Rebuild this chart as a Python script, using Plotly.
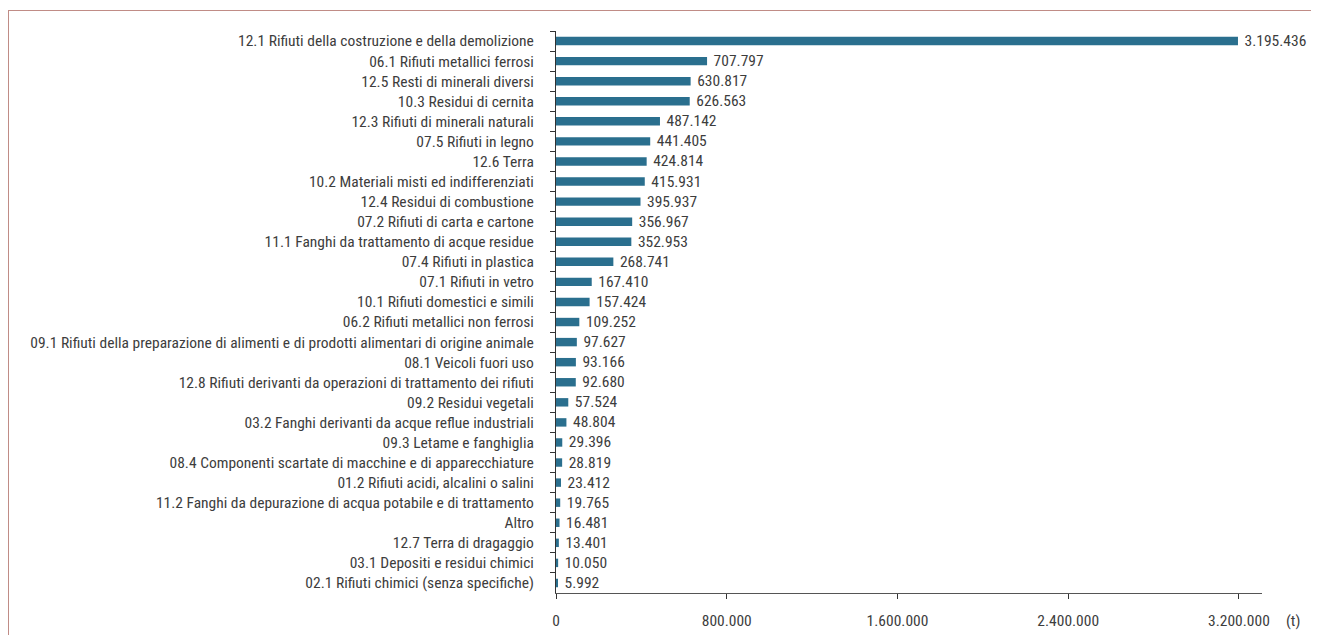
import plotly.graph_objects as go

categories = [
    "12.1 Rifiuti della costruzione e della demolizione",
    "06.1 Rifiuti metallici ferrosi",
    "12.5 Resti di minerali diversi",
    "10.3 Residui di cernita",
    "12.3 Rifiuti di minerali naturali",
    "07.5 Rifiuti in legno",
    "12.6 Terra",
    "10.2 Materiali misti ed indifferenziati",
    "12.4 Residui di combustione",
    "07.2 Rifiuti di carta e cartone",
    "11.1 Fanghi da trattamento di acque residue",
    "07.4 Rifiuti in plastica",
    "07.1 Rifiuti in vetro",
    "10.1 Rifiuti domestici e simili",
    "06.2 Rifiuti metallici non ferrosi",
    "09.1 Rifiuti della preparazione di alimenti e di prodotti alimentari di origine animale",
    "08.1 Veicoli fuori uso",
    "12.8 Rifiuti derivanti da operazioni di trattamento dei rifiuti",
    "09.2 Residui vegetali",
    "03.2 Fanghi derivanti da acque reflue industriali",
    "09.3 Letame e fanghiglia",
    "08.4 Componenti scartate di macchine e di apparecchiature",
    "01.2 Rifiuti acidi, alcalini o salini",
    "11.2 Fanghi da depurazione di acqua potabile e di trattamento",
    "Altro",
    "12.7 Terra di dragaggio",
    "03.1 Depositi e residui chimici",
    "02.1 Rifiuti chimici (senza specifiche)",
]
values = [3195436, 707797, 630817, 626563, 487142, 441405, 424814, 415931, 395937,
          356967, 352953, 268741, 167410, 157424, 109252, 97627, 93166, 92680,
          57524, 48804, 29396, 28819, 23412, 19765, 16481, 13401, 10050, 5992]
x_ticks = [0, 800000, 1600000, 2400000, 3200000]
unit_label = "(t)"

FONT = "Roboto Condensed, Liberation Sans Narrow, Arial Narrow, sans-serif"
TXT = "#3d3d3d"
BAR = "#2a6f8e"

# figure is offset by the 8px page body margin
W, H = 1311, 627
L, R, T, B = 548, 57, 23, 42
PW = W - L - R
PH = H - T - B


def px(x):
    return (x - L) / PW


def py(y):
    return (H - B - y) / PH


fig = go.Figure(go.Bar(
    x=values, y=categories, orientation="h",
    marker=dict(color=BAR, line=dict(width=0)),
    texttemplate=" %{x:,d}", textposition="outside", cliponaxis=False,
    constraintext="none",
    textfont=dict(family=FONT, size=15.5, color=TXT),
    hoverinfo="x+y",
))

fig.update_layout(
    width=W, height=H,
    margin=dict(l=L, r=R, t=T, b=B, pad=0, autoexpand=False),
    paper_bgcolor="white", plot_bgcolor="white",
    separators=",.",
    bargap=0.58,
    showlegend=False,
    font=dict(family=FONT, size=15, color=TXT),
    xaxis=dict(
        range=[0, 3308000], tickvals=x_ticks, tickformat=",d",
        automargin=False,
        showgrid=False, zeroline=False,
        showline=True, linecolor="#555", linewidth=1,
        ticks="outside", ticklen=5, tickcolor="#333",
        tickfont=dict(family=FONT, size=15.5, color=TXT),
        ticklabelstandoff=8,
    ),
    yaxis=dict(
        categoryorder="array", categoryarray=categories, autorange="reversed",
        tickmode="linear", tick0=0, dtick=1,
        automargin=False,
        showgrid=False, zeroline=False,
        showline=True, linecolor="#333", linewidth=1,
        ticks="outside", ticklen=5, tickcolor="#333", tickson="boundaries",
        tickfont=dict(family=FONT, size=15.5, color=TXT),
        ticklabelstandoff=18,
    ),
    annotations=[dict(
        text=unit_label, xref="paper", yref="paper",
        x=px(1285), y=py(613),
        xanchor="center", yanchor="middle", showarrow=False,
        font=dict(family=FONT, size=15.5, color=TXT),
    )],
    shapes=[
        dict(type="line", xref="paper", yref="paper",
             x0=px(0), x1=px(W),
             y0=py(2.5), y1=py(2.5),
             line=dict(color="#c08c86", width=1)),
        dict(type="line", xref="paper", yref="paper",
             x0=px(0.5), x1=px(0.5),
             y0=py(2), y1=py(H),
             line=dict(color="#c08c86", width=1)),
    ],
)

fig.write_html("out.html")
